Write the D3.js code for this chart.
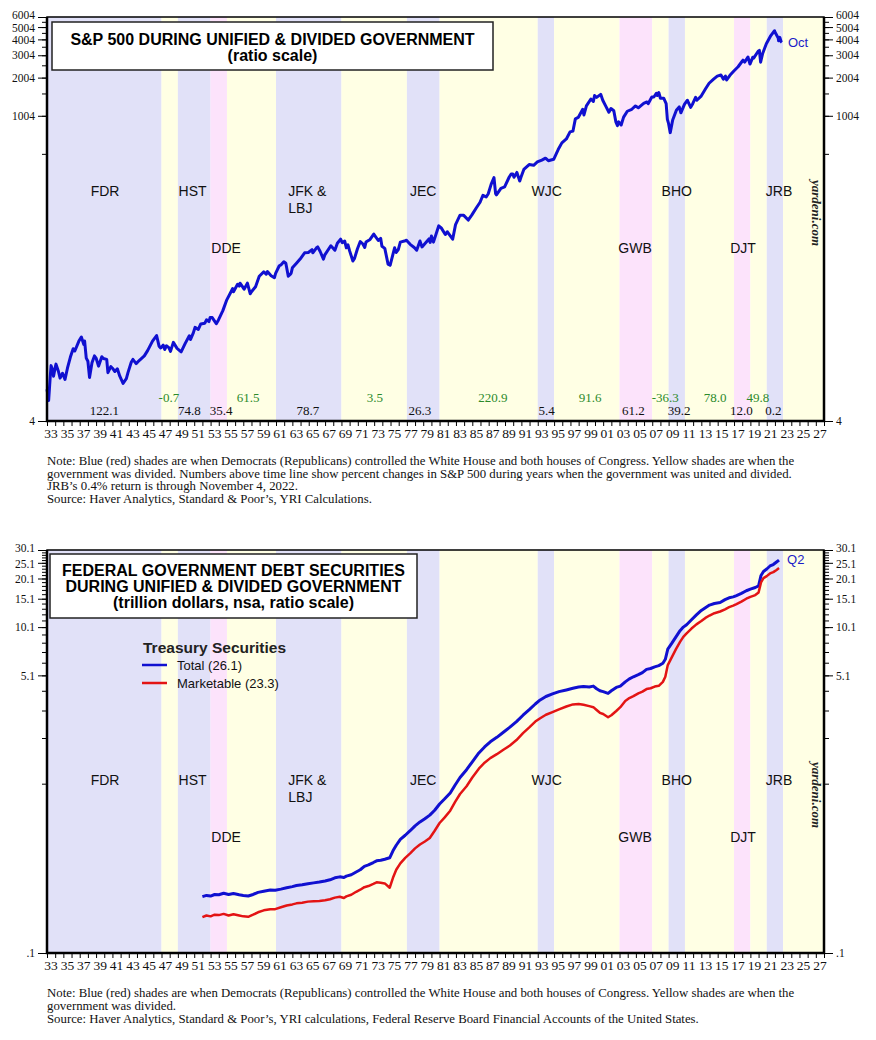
<!DOCTYPE html>
<html>
<head>
<meta charset="utf-8">
<script src="https://cdn.jsdelivr.net/npm/d3@7.9.0/dist/d3.min.js"></script>
<style>
  body { margin: 0; background: #fff; }
  svg text { font-family: "Liberation Sans", Arial, sans-serif; }
  svg .serif { font-family: "Liberation Serif", "Times New Roman", serif; }
</style>
</head>
<body>
<svg id="chart" width="876" height="1040"></svg>
<script>
// political regimes: D = Democrats control all, R = Republicans, Y = divided
const regimes = [
  [1933, 1947, "D"], [1947, 1949, "Y"], [1949, 1953, "D"], [1953, 1955, "R"],
  [1955, 1961, "Y"], [1961, 1969, "D"], [1969, 1977, "Y"], [1977, 1981, "D"],
  [1981, 1993, "Y"], [1993, 1995, "D"], [1995, 2003, "Y"], [2003, 2007, "R"],
  [2007, 2009, "Y"], [2009, 2011, "D"], [2011, 2017, "Y"], [2017, 2019, "R"],
  [2019, 2021, "Y"], [2021, 2023, "D"], [2023, 2028, "Y"]
];

// president labels: name, year position, row (0 = upper, 1 = lower)
const presidents = [
  ["FDR", 1940.1, 0], ["HST", 1950.8, 0], ["DDE", 1954.9, 1], ["JFK &|LBJ", 1962.5, 0],
  ["JEC", 1979.0, 0], ["WJC", 1994.1, 0], ["GWB", 2004.9, 1], ["BHO", 2010.0, 0],
  ["DJT", 2018.1, 1], ["JRB", 2022.5, 0]
];

// S&P 500 % change, united government (black) and divided (green)
const unitedYears = [1940.0, 1950.4, 1954.3, 1964.9, 1978.6, 1994.1, 2004.7, 2010.3, 2017.9, 2021.8];
const unitedReturns = [122.1, 74.8, 35.4, 78.7, 26.3, 5.4, 61.2, 39.2, 12.0, 0.2];
const dividedYears = [1947.9, 1957.6, 1973.1, 1987.5, 1999.4, 2008.6, 2014.7, 2019.9];
const dividedReturns = [-0.7, 61.5, 3.5, 220.9, 91.6, -36.3, 78.0, 49.8];

// S&P 500 index (ratio scale), [year, value]
const spx = [
  [1933.0, 7.1], [1933.2, 5.8], [1933.4, 9.0], [1933.5, 10.9], [1933.7, 10.0], [1933.8, 9.0],
  [1934.0, 10.5], [1934.1, 11.2], [1934.4, 9.8], [1934.6, 8.7], [1934.9, 9.5], [1935.2, 8.5],
  [1935.5, 10.4], [1935.9, 13.0], [1936.2, 14.8], [1936.4, 14.2], [1936.9, 17.0], [1937.2, 18.3],
  [1937.5, 16.0], [1937.6, 17.0], [1937.8, 12.5], [1938.0, 11.8], [1938.2, 8.8], [1938.5, 11.5],
  [1938.8, 13.0], [1939.0, 12.5], [1939.3, 10.8], [1939.7, 12.8], [1939.9, 12.4], [1940.3, 12.2],
  [1940.45, 9.6], [1940.8, 10.7], [1941.0, 10.4], [1941.3, 9.8], [1941.6, 10.3], [1941.9, 9.0],
  [1942.3, 7.9], [1942.7, 8.6], [1942.9, 9.6], [1943.3, 11.6], [1943.5, 12.2], [1943.9, 11.3],
  [1944.3, 12.0], [1944.9, 13.0], [1945.3, 14.3], [1945.9, 17.0], [1946.4, 18.8], [1946.7, 15.5],
  [1946.9, 15.0], [1947.2, 15.8], [1947.4, 14.6], [1947.6, 15.6], [1947.9, 15.1], [1948.1, 14.1],
  [1948.45, 16.6], [1948.9, 14.9], [1949.4, 14.0], [1949.9, 16.3], [1950.4, 18.7], [1950.55, 17.5],
  [1950.9, 19.8], [1951.1, 21.8], [1951.5, 21.0], [1951.8, 23.2], [1952.3, 23.5], [1952.5, 25.0],
  [1952.8, 24.2], [1952.95, 26.1], [1953.2, 26.0], [1953.7, 23.3], [1953.95, 24.8], [1954.5, 29.5],
  [1954.95, 35.5], [1955.5, 41.5], [1955.7, 44.0], [1955.8, 41.5], [1956.3, 47.5], [1956.5, 46.0],
  [1956.6, 48.5], [1956.9, 45.5], [1957.1, 43.5], [1957.5, 48.5], [1957.85, 40.0], [1958.0, 41.5],
  [1958.5, 45.5], [1958.95, 55.0], [1959.5, 59.5], [1959.8, 57.0], [1959.95, 59.8], [1960.4, 55.5],
  [1960.8, 53.5], [1960.95, 58.0], [1961.4, 66.5], [1961.6, 67.5], [1961.95, 71.5], [1962.2, 69.5],
  [1962.5, 55.0], [1962.7, 56.5], [1962.85, 58.0], [1963.0, 64.0], [1963.5, 69.5], [1963.95, 75.0],
  [1964.5, 84.0], [1964.95, 84.5], [1965.4, 89.0], [1965.5, 84.0], [1965.95, 92.0], [1966.1, 93.5],
  [1966.4, 86.0], [1966.8, 75.0], [1966.95, 80.5], [1967.7, 95.5], [1967.9, 92.5], [1968.2, 88.0],
  [1968.5, 100.0], [1968.9, 107.5], [1969.1, 101.0], [1969.4, 104.0], [1969.6, 92.0], [1969.8, 97.0],
  [1970.0, 87.0], [1970.4, 72.5], [1970.6, 76.0], [1970.95, 90.0], [1971.3, 103.0], [1971.6, 99.0],
  [1971.85, 92.5], [1972.0, 102.0], [1972.5, 107.0], [1972.95, 118.0], [1973.5, 105.0], [1973.8, 109.0],
  [1973.95, 94.5], [1974.3, 91.0], [1974.7, 68.5], [1974.95, 67.0], [1975.5, 92.0], [1975.7, 84.5],
  [1975.95, 89.0], [1976.2, 102.0], [1976.7, 104.0], [1976.95, 105.5], [1977.4, 98.0], [1977.9, 92.5],
  [1978.2, 88.0], [1978.6, 104.0], [1978.85, 93.5], [1979.3, 101.0], [1979.7, 108.0], [1979.85, 101.5],
  [1980.0, 114.0], [1980.25, 102.0], [1980.9, 137.0], [1981.2, 132.0], [1981.7, 117.0], [1981.95, 123.0],
  [1982.6, 107.5], [1982.95, 140.0], [1983.5, 166.0], [1983.95, 165.5], [1984.5, 152.0], [1984.95, 167.0],
  [1985.5, 190.0], [1985.95, 210.0], [1986.3, 238.0], [1986.7, 231.0], [1986.95, 245.0], [1987.3, 290.0],
  [1987.65, 328.0], [1987.85, 245.0], [1987.95, 240.0], [1988.5, 270.0], [1988.95, 277.0], [1989.5, 330.0],
  [1989.75, 350.0], [1989.95, 350.0], [1990.1, 330.0], [1990.45, 360.0], [1990.8, 308.0], [1990.95, 330.0],
  [1991.3, 380.0], [1991.95, 415.0], [1992.5, 410.0], [1992.95, 435.0], [1993.5, 450.0], [1993.95, 466.0],
  [1994.3, 445.0], [1994.95, 457.0], [1995.5, 545.0], [1995.95, 615.0], [1996.5, 660.0], [1996.95, 750.0],
  [1997.3, 760.0], [1997.6, 950.0], [1997.95, 975.0], [1998.5, 1130.0], [1998.65, 1020.0], [1998.95, 1200.0],
  [1999.5, 1360.0], [1999.8, 1300.0], [1999.95, 1450.0], [2000.2, 1400.0], [2000.7, 1480.0], [2000.95, 1330.0],
  [2001.3, 1200.0], [2001.7, 1070.0], [2001.95, 1145.0], [2002.3, 1100.0], [2002.55, 900.0], [2002.75, 840.0],
  [2002.9, 900.0], [2003.2, 850.0], [2003.5, 980.0], [2003.95, 1090.0], [2004.5, 1130.0], [2004.95, 1200.0],
  [2005.3, 1160.0], [2005.95, 1255.0], [2006.35, 1290.0], [2006.5, 1250.0], [2006.95, 1410.0], [2007.2, 1410.0],
  [2007.5, 1510.0], [2007.6, 1450.0], [2007.8, 1530.0], [2008.0, 1380.0], [2008.4, 1380.0], [2008.7, 1250.0],
  [2008.85, 940.0], [2009.0, 870.0], [2009.2, 740.0], [2009.5, 930.0], [2009.95, 1110.0], [2010.3, 1180.0],
  [2010.5, 1060.0], [2010.95, 1240.0], [2011.3, 1330.0], [2011.7, 1170.0], [2011.95, 1250.0], [2012.3, 1400.0],
  [2012.45, 1330.0], [2012.95, 1425.0], [2013.5, 1630.0], [2013.95, 1810.0], [2014.5, 1950.0], [2014.95, 2060.0],
  [2015.4, 2100.0], [2015.7, 1950.0], [2015.95, 2060.0], [2016.1, 1920.0], [2016.5, 2090.0], [2016.95, 2250.0],
  [2017.5, 2440.0], [2017.95, 2670.0], [2018.1, 2750.0], [2018.3, 2650.0], [2018.7, 2910.0], [2018.95, 2560.0],
  [2019.3, 2900.0], [2019.4, 2850.0], [2019.95, 3230.0], [2020.1, 3280.0], [2020.25, 2650.0], [2020.5, 3100.0],
  [2020.95, 3700.0], [2021.5, 4290.0], [2021.95, 4680.0], [2022.0, 4570.0], [2022.4, 4100.0], [2022.45, 3900.0],
  [2022.6, 4150.0], [2022.75, 3850.0], [2022.85, 3800.0]
];

// Treasury securities, trillion dollars: total and marketable
const treasuryTotal = [
  [1952.0, 0.222], [1952.5, 0.226], [1953.0, 0.224], [1953.5, 0.229], [1954.0, 0.228], [1954.6, 0.233],
  [1955.2, 0.229], [1955.8, 0.232], [1956.5, 0.228], [1957.0, 0.226], [1957.6, 0.224], [1958.2, 0.229],
  [1958.8, 0.236], [1959.5, 0.240], [1960.3, 0.244], [1960.9, 0.243], [1961.6, 0.247], [1962.3, 0.252],
  [1963.0, 0.256], [1963.5, 0.260], [1964.2, 0.263], [1964.9, 0.267], [1965.6, 0.270], [1966.3, 0.273],
  [1967.0, 0.277], [1967.6, 0.282], [1968.2, 0.290], [1968.8, 0.294], [1969.3, 0.291], [1969.6, 0.297],
  [1970.2, 0.303], [1970.8, 0.315], [1971.3, 0.325], [1971.8, 0.341], [1972.3, 0.348], [1972.9, 0.360],
  [1973.3, 0.369], [1973.8, 0.372], [1974.3, 0.377], [1974.9, 0.385], [1975.3, 0.425], [1975.7, 0.460],
  [1976.2, 0.500], [1976.8, 0.530], [1977.4, 0.565], [1978.0, 0.605], [1978.6, 0.640], [1979.2, 0.670],
  [1979.8, 0.705], [1980.4, 0.755], [1981.0, 0.825], [1981.6, 0.885], [1982.3, 0.965], [1982.9, 1.08],
  [1983.5, 1.20], [1984.3, 1.34], [1985.0, 1.50], [1985.8, 1.70], [1986.5, 1.85], [1987.2, 1.99],
  [1988.0, 2.12], [1988.8, 2.28], [1989.6, 2.45], [1990.4, 2.65], [1991.2, 2.90], [1992.0, 3.15],
  [1992.7, 3.40], [1993.3, 3.60], [1994.0, 3.78], [1994.8, 3.92], [1995.6, 4.05], [1996.5, 4.15],
  [1997.3, 4.25], [1998.0, 4.32], [1998.6, 4.36], [1999.3, 4.33], [1999.8, 4.38], [2000.2, 4.22],
  [2000.6, 4.10], [2001.0, 4.05], [2001.6, 3.95], [2002.0, 4.10], [2002.6, 4.30], [2003.1, 4.38],
  [2003.7, 4.65], [2004.2, 4.85], [2004.7, 5.00], [2005.3, 5.15], [2005.8, 5.30], [2006.3, 5.55],
  [2006.8, 5.62], [2007.3, 5.75], [2007.8, 5.85], [2008.3, 6.05], [2008.6, 6.40], [2008.9, 7.40],
  [2009.4, 8.05], [2009.9, 8.80], [2010.4, 9.60], [2010.8, 10.1], [2011.2, 10.45], [2011.8, 11.2],
  [2012.4, 12.0], [2013.0, 12.8], [2013.5, 13.3], [2014.0, 13.8], [2014.6, 14.1], [2015.3, 14.3],
  [2015.9, 14.9], [2016.4, 15.3], [2016.9, 15.5], [2017.3, 15.8], [2017.9, 16.3], [2018.5, 16.9],
  [2019.0, 17.3], [2019.6, 17.7], [2020.0, 18.1], [2020.3, 21.0], [2020.6, 22.2], [2021.0, 23.0],
  [2021.4, 24.0], [2021.8, 24.5], [2022.2, 25.4], [2022.5, 26.1]
];
const treasuryMarketable = [
  [1952.0, 0.166], [1952.5, 0.170], [1953.0, 0.168], [1953.5, 0.172], [1954.0, 0.171], [1954.6, 0.174],
  [1955.2, 0.170], [1955.8, 0.173], [1956.5, 0.170], [1957.0, 0.168], [1957.6, 0.167], [1958.2, 0.172],
  [1958.8, 0.178], [1959.5, 0.183], [1960.3, 0.186], [1960.9, 0.186], [1961.6, 0.191], [1962.3, 0.196],
  [1963.0, 0.199], [1963.5, 0.202], [1964.2, 0.204], [1964.9, 0.207], [1965.6, 0.208], [1966.3, 0.209],
  [1967.0, 0.211], [1967.6, 0.214], [1968.2, 0.219], [1968.8, 0.222], [1969.3, 0.218], [1969.6, 0.223],
  [1970.2, 0.228], [1970.8, 0.238], [1971.3, 0.245], [1971.8, 0.254], [1972.3, 0.258], [1972.9, 0.266],
  [1973.3, 0.272], [1973.8, 0.270], [1974.3, 0.268], [1974.9, 0.252], [1975.3, 0.290], [1975.7, 0.325],
  [1976.2, 0.356], [1976.8, 0.385], [1977.4, 0.410], [1978.0, 0.440], [1978.6, 0.465], [1979.2, 0.485],
  [1979.8, 0.510], [1980.4, 0.565], [1981.0, 0.630], [1981.6, 0.680], [1982.3, 0.750], [1982.9, 0.850],
  [1983.5, 0.950], [1984.3, 1.06], [1985.0, 1.20], [1985.8, 1.36], [1986.5, 1.48], [1987.2, 1.58],
  [1988.0, 1.67], [1988.8, 1.78], [1989.6, 1.89], [1990.4, 2.04], [1991.2, 2.25], [1992.0, 2.45],
  [1992.7, 2.65], [1993.3, 2.78], [1994.0, 2.92], [1994.8, 3.03], [1995.6, 3.15], [1996.5, 3.28],
  [1997.3, 3.38], [1998.0, 3.40], [1998.6, 3.36], [1999.3, 3.30], [1999.8, 3.25], [2000.2, 3.12],
  [2000.6, 3.00], [2001.0, 2.95], [2001.6, 2.82], [2002.0, 2.90], [2002.6, 3.08], [2003.1, 3.25],
  [2003.7, 3.55], [2004.2, 3.70], [2004.7, 3.80], [2005.3, 3.95], [2005.8, 4.05], [2006.3, 4.20],
  [2006.8, 4.25], [2007.3, 4.35], [2007.8, 4.40], [2008.3, 4.65], [2008.6, 5.00], [2008.9, 5.90],
  [2009.4, 6.60], [2009.9, 7.40], [2010.4, 8.20], [2010.8, 8.80], [2011.2, 9.25], [2011.8, 9.90],
  [2012.4, 10.5], [2013.0, 11.0], [2013.5, 11.5], [2014.0, 11.9], [2014.6, 12.3], [2015.3, 12.6],
  [2015.9, 13.0], [2016.4, 13.4], [2016.9, 13.7], [2017.3, 14.0], [2017.9, 14.5], [2018.5, 15.1],
  [2019.0, 15.5], [2019.6, 15.9], [2020.0, 16.5], [2020.3, 19.0], [2020.6, 20.2], [2021.0, 20.8],
  [2021.4, 21.6], [2021.8, 22.0], [2022.2, 22.7], [2022.5, 23.3]
];

// axis ticks
const spxMajorTicks = [4, 1004, 2004, 3004, 4004, 5004, 6004];
const spxMinorTicks = d3.range(504, 6005, 500);
const debtMajorTicks = [0.1, 5.1, 10.1, 15.1, 20.1, 25.1, 30.1];
const debtMinorTicks = d3.range(1, 31).map(d => d + 0.1);
const yearTicks = d3.range(1933, 2029);
const yearLabels = d3.range(1933, 2028, 2);

const notesTop = [
  "Note: Blue (red) shades are when Democrats (Republicans) controlled the White House and both houses of Congress. Yellow shades are when the",
  "government was divided. Numbers above time line show percent changes in S&P 500 during years when the government was united and divided.",
  "JRB\u2019s 0.4% return is through November 4, 2022.",
  "Source: Haver Analytics, Standard & Poor\u2019s, YRI Calculations."
];
const notesBottom = [
  "Note: Blue (red) shades are when Democrats (Republicans) controlled the White House and both houses of Congress. Yellow shades are when the",
  "government was divided.",
  "Source: Haver Analytics, Standard & Poor\u2019s, YRI calculations, Federal Reserve Board Financial Accounts of the United States."
];

const shade = { D: "#e1e1f8", R: "#fce3fb", Y: "#ffffe4" };
const LEFT = 47, RIGHT = 824;
const svg = d3.select("#chart");
const x = d3.scaleLinear().domain([1933, 2028]).range([LEFT, RIGHT]);

function drawPanel(p) {
  const g = svg.append("g");
  const y = d3.scaleLog().domain(p.domain).range([p.bottom, p.top]);

  // shaded regimes
  g.selectAll("rect.band").data(regimes).join("rect")
    .attr("x", d => x(d[0])).attr("width", d => x(d[1]) - x(d[0]))
    .attr("y", p.top).attr("height", p.bottom - p.top)
    .attr("fill", d => shade[d[2]]);

  // president labels
  presidents.forEach(([name, yr, row]) => {
    const parts = name.split("|");
    const t = g.append("text").attr("font-size", 14).attr("fill", "#111")
      .attr("x", x(yr)).attr("y", p.nameY[row])
      .attr("text-anchor", parts.length > 1 ? "start" : "middle");
    parts.forEach((s, i) => t.append("tspan").attr("x", x(yr)).attr("dy", i ? 16.5 : 0).text(s));
  });

  if (p.returns) {
    unitedReturns.forEach((v, i) => g.append("text").attr("class", "serif")
      .attr("x", x(unitedYears[i])).attr("y", p.bottom - 6).attr("text-anchor", "middle")
      .attr("font-size", 13).attr("fill", "#111").text(v.toFixed(1)));
    dividedReturns.forEach((v, i) => g.append("text").attr("class", "serif")
      .attr("x", x(dividedYears[i])).attr("y", p.bottom - 19).attr("text-anchor", "middle")
      .attr("font-size", 13).attr("fill", "#2b8a2b").text(v.toFixed(1)));
  }

  // yardeni.com
  g.append("text").attr("class", "serif")
    .attr("transform", `translate(${RIGHT - 12},${p.brandY}) rotate(90)`)
    .attr("text-anchor", "middle").attr("font-size", 13)
    .attr("font-weight", "bold").attr("font-style", "italic").attr("fill", "#222")
    .text("yardeni.com");

  // series
  const line = d3.line().x(d => x(d[0])).y(d => y(d[1]));
  p.series.forEach(s => {
    g.append("path").datum(s.data).attr("d", line)
      .attr("fill", "none").attr("stroke", s.color).attr("stroke-width", s.width)
      .attr("stroke-linejoin", "round");
  });
  const last = p.series[0].data[p.series[0].data.length - 1];
  g.append("text").attr("x", x(last[0]) + p.endDx).attr("y", y(last[1]) + p.endDy)
    .attr("font-size", 13).attr("fill", "#1c1cc8").text(p.endLabel);

  // frame
  g.append("rect").attr("x", LEFT).attr("y", p.top)
    .attr("width", RIGHT - LEFT).attr("height", p.bottom - p.top)
    .attr("fill", "none").attr("stroke", "#000").attr("stroke-width", 1.5);
  g.append("path").attr("d", `M${LEFT},${p.top}V${p.bottom}H${RIGHT}V${p.top}`)
    .attr("fill", "none").attr("stroke", "#000").attr("stroke-width", 2.5);

  // y axes (both sides)
  [[LEFT, d3.axisLeft], [RIGHT, d3.axisRight]].forEach(([pos, ax]) => {
    const minor = g.append("g").attr("transform", `translate(${pos},0)`)
      .call(ax(y).tickValues(p.minor).tickSize(5).tickFormat(""));
    const major = g.append("g").attr("transform", `translate(${pos},0)`)
      .call(ax(y).tickValues(p.major).tickSize(9).tickPadding(3).tickFormat(p.fmt));
    [minor, major].forEach(a => {
      a.select(".domain").remove();
      a.selectAll("line").attr("stroke", "#000").attr("stroke-width", 1);
      a.selectAll("text").attr("class", "serif").attr("font-size", 11.5).attr("fill", "#111");
    });
    // tight top labels: nudge the top pair apart a little
    major.selectAll(".tick text").attr("dy", (d, i, n) =>
      i === n.length - 1 ? "0.1em" : i === n.length - 2 ? "0.42em" : "0.32em");
  });

  // x axis
  const xa = g.append("g").attr("transform", `translate(0,${p.bottom})`)
    .call(d3.axisBottom(x).tickValues(yearTicks).tickSize(5).tickFormat(""));
  xa.select(".domain").remove();
  xa.selectAll("line").attr("stroke", "#000").attr("stroke-width", 1);
  g.selectAll("text.yr").data(yearLabels).join("text").attr("class", "serif")
    .attr("x", d => x(d + 0.5)).attr("y", p.bottom + 17).attr("text-anchor", "middle")
    .attr("font-size", 13.5).attr("fill", "#111")
    .text(d => String(d % 100).padStart(2, "0"));

  // title box
  g.append("rect").attr("x", p.box[0]).attr("y", p.box[1])
    .attr("width", p.box[2] - p.box[0]).attr("height", p.box[3] - p.box[1])
    .attr("fill", "#fff").attr("stroke", "#222").attr("stroke-width", 1.5);
  p.title.forEach((t, i) => g.append("text")
    .attr("x", (p.box[0] + p.box[2]) / 2).attr("y", p.titleY + i * 16)
    .attr("text-anchor", "middle").attr("font-size", 16).attr("font-weight", "bold")
    .attr("fill", "#000").text(t));

  // notes
  p.notes.forEach((t, i) => g.append("text").attr("class", "serif")
    .attr("x", LEFT).attr("y", p.noteY + i * p.noteStep)
    .attr("font-size", 12.8).attr("fill", "#111").text(t));
  return { g, y };
}

drawPanel({
  top: 17, bottom: 421, domain: [4, 6004],
  major: spxMajorTicks, minor: spxMinorTicks, fmt: d => d3.format("d")(d),
  nameY: [196, 253], returns: true, brandY: 213,
  series: [{ data: spx, color: "#1010d0", width: 3 }],
  endLabel: "Oct", endDx: 6, endDy: 5,
  box: [52, 22, 493, 70], title: ["S&P 500 DURING UNIFIED & DIVIDED GOVERNMENT", "(ratio scale)"], titleY: 45,
  notes: notesTop, noteY: 465, noteStep: 12.6
});

const bottom = drawPanel({
  top: 550, bottom: 953, domain: [0.1, 30.1],
  major: debtMajorTicks, minor: debtMinorTicks, fmt: d => d < 1 ? ".1" : d.toFixed(1),
  nameY: [785, 842], returns: false, brandY: 795,
  series: [
    { data: treasuryTotal, color: "#1010d0", width: 3 },
    { data: treasuryMarketable, color: "#e31414", width: 2.5 }
  ],
  endLabel: "Q2", endDx: 8, endDy: 4,
  box: [50, 554, 417, 618], title: ["FEDERAL GOVERNMENT DEBT SECURITIES", "DURING UNIFIED & DIVIDED GOVERNMENT", "(trillion dollars, nsa, ratio scale)"], titleY: 576,
  notes: notesBottom, noteY: 997, noteStep: 13
});

// legend for the debt chart
const legendItems = [["Total (26.1)", "#1010d0"], ["Marketable (23.3)", "#e31414"]];
const lg = bottom.g.append("g");
lg.append("text").attr("x", 143).attr("y", 653).attr("font-size", 15.5)
  .attr("font-weight", "bold").attr("fill", "#222").text("Treasury Securities");
legendItems.forEach(([label, color], i) => {
  const yy = 665 + i * 18;
  lg.append("line").attr("x1", 142).attr("x2", 167).attr("y1", yy).attr("y2", yy)
    .attr("stroke", color).attr("stroke-width", 2.5);
  lg.append("text").attr("x", 177).attr("y", yy + 5).attr("font-size", 13)
    .attr("fill", "#111").text(label);
});
</script>
</body>
</html>
